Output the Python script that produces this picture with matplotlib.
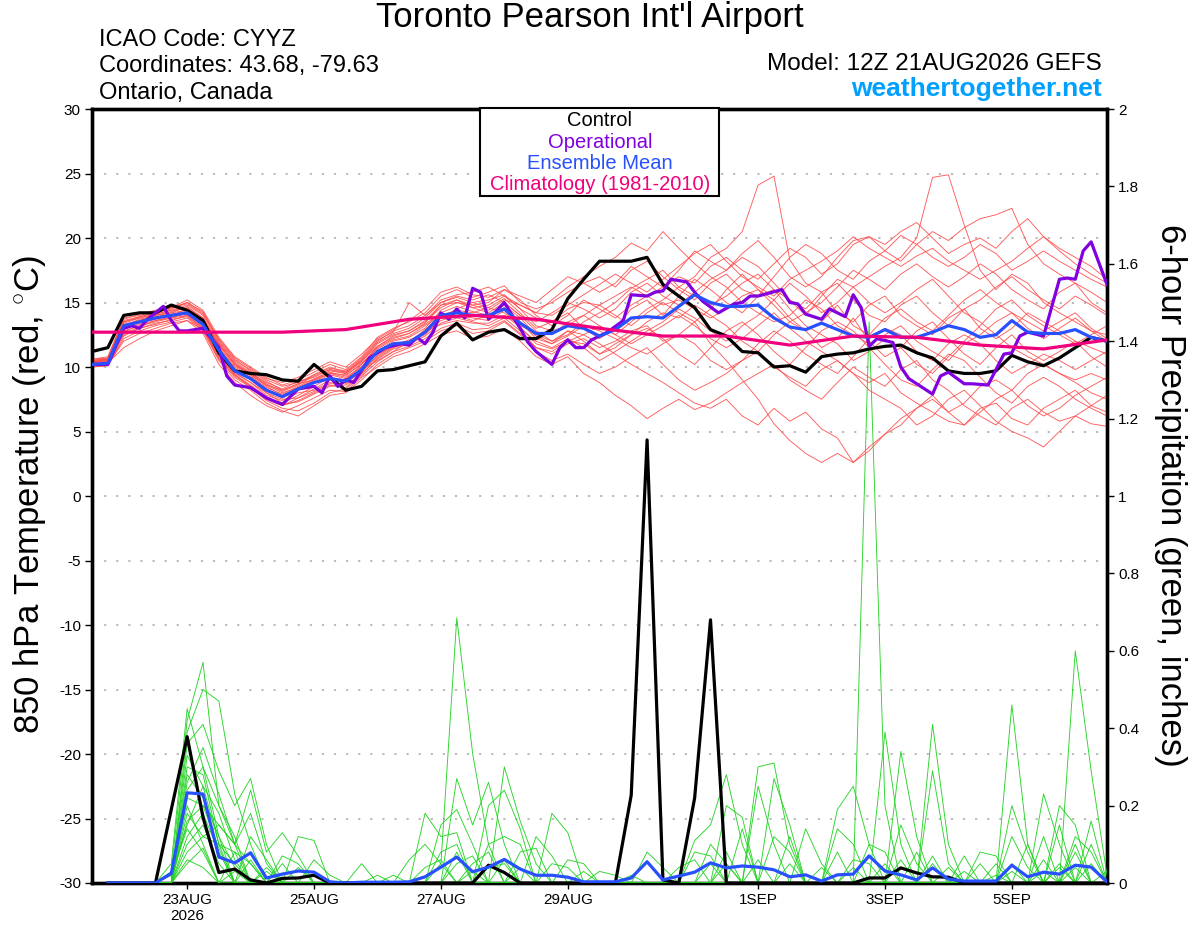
import numpy as np
import matplotlib
matplotlib.use('Agg')
import matplotlib.pyplot as plt
from matplotlib.patches import Rectangle

plt.rcParams['font.family'] = ['Liberation Sans', 'DejaVu Sans']
plt.rcParams['mathtext.fontset'] = 'custom'
plt.rcParams['mathtext.rm'] = 'Liberation Sans'

# ---------------- data ----------------
STEP_H = 6
N = 65
hours = np.arange(N) * STEP_H  # forecast hours from 12Z 21AUG2026

control_t = [11.2, 11.5, 14.0, 14.2, 14.2, 14.8, 14.4, 13.6, 11.1, 9.7,
             9.5, 9.4, 9.0, 8.9, 10.2, 9.2, 8.2, 8.5, 9.7, 9.8,
             10.1, 10.4, 12.4, 13.4, 12.1, 12.7, 12.9, 12.2, 12.2, 12.9,
             15.3, 16.8, 18.2, 18.2, 18.2, 18.5, 16.4, 15.5, 14.6, 12.9,
             12.4, 11.2, 11.1, 10.0, 10.1, 9.6, 10.8, 11.0, 11.1, 11.4,
             11.6, 11.7, 11.1, 10.7, 9.7, 9.5, 9.5, 9.7, 10.9, 10.4,
             10.1, 10.7, 11.5, 12.3, 12.0]

mean_t = [10.2, 10.3, 13.2, 13.5, 13.8, 14.0, 14.2, 13.3, 11.3, 9.7,
          9.1, 8.2, 7.7, 8.3, 8.8, 9.1, 8.9, 9.8, 11.2, 11.8,
          11.9, 12.7, 14.0, 14.2, 14.0, 14.0, 14.5, 13.4, 12.6, 12.6,
          13.2, 13.0, 12.4, 12.9, 13.8, 13.9, 13.8, 14.7, 15.6, 15.0,
          14.7, 14.7, 14.8, 13.8, 13.1, 12.9, 13.4, 12.9, 12.4, 12.3,
          12.9, 12.3, 12.3, 12.7, 13.2, 12.9, 12.3, 12.5, 13.6, 12.7,
          12.6, 12.6, 12.9, 12.3, 12.0]

op_hours = [0, 6, 12, 15, 18, 21, 27, 30, 33, 36, 42, 48, 51, 54, 60, 66, 72, 78,
            84, 87, 90, 93, 96, 99, 105, 111, 117, 120, 123, 126, 129, 132, 135,
            138, 141, 144, 147, 150, 156, 162, 165, 168, 171, 174, 177, 180, 183,
            186, 189, 195, 201, 204, 210, 213, 216, 219, 225, 228, 231, 237, 243,
            246, 249, 252, 261, 264, 267, 270, 276, 279, 285, 288, 291, 294, 297,
            303, 306, 309, 318, 321, 324, 330, 333, 339, 342, 345, 348, 351, 354,
            360, 366, 369, 372, 375, 378, 384]
op_t = [10.2, 10.2, 13.0, 13.2, 13.0, 13.7, 14.7, 13.6, 12.8, 12.8, 13.0, 11.5,
        9.3, 8.6, 8.4, 7.6, 7.1, 8.3, 8.5, 8.0, 9.3, 8.5, 9.0, 8.8, 10.7, 11.5,
        11.8, 11.7, 12.3, 11.8, 12.7, 14.2, 13.7, 14.5, 13.8, 16.1, 15.8, 13.7,
        15.0, 13.0, 11.9, 11.2, 10.7, 10.2, 11.5, 12.1, 11.5, 11.5, 12.1, 12.7,
        13.6, 15.6, 15.5, 15.8, 15.9, 16.8, 16.6, 15.8, 15.1, 14.2, 14.9, 15.0,
        15.5, 15.5, 16.0, 15.0, 14.9, 14.1, 13.7, 14.5, 13.9, 15.6, 14.6, 11.6,
        12.2, 11.9, 10.0, 9.1, 7.9, 9.3, 9.6, 8.7, 8.7, 8.6, 9.8, 11.0, 11.1,
        12.4, 12.7, 12.4, 16.8, 16.9, 16.8, 19.0, 19.7, 16.4]

clim_hours = [0, 24, 48, 72, 96, 120, 144, 168, 192, 216, 240, 264, 288, 312, 336, 360, 384]
clim_t = [12.7, 12.7, 12.7, 12.7, 12.9, 13.7, 14.0, 13.7, 13.0, 12.4, 12.4,
          11.7, 12.4, 12.3, 11.7, 11.4, 12.1]

# precipitation series start at forecast hour 6 (index 1)
control_p = [0, 0, 0, 0, 0, .19, .378, .17, .027, .036,
             .008, 0, .012, .013, .02, 0, 0, 0, 0, 0,
             0, 0, 0, 0, 0, .046, .027, 0, 0, 0,
             0, 0, 0, 0, .227, 1.145, .008, 0, .22, .68,
             0, 0, 0, 0, 0, 0, 0, 0, 0, .013,
             .013, .039, .026, .016, .015, 0, 0, 0, 0, 0,
             0, 0, 0, 0, 0]

mean_p = [0, 0, 0, 0, 0, .025, .233, .23, .067, .052,
          .078, .013, .023, .031, .028, .003, 0, .002, .002, .002,
          .003, .016, .041, .067, .029, .041, .061, .036, .02, .02,
          .015, .003, .003, .003, .013, .055, .008, .018, .028, .052,
          .039, .044, .041, .034, .016, .021, .005, .021, .023, .07,
          .031, .021, .008, .039, .01, .005, .005, .005, .046, .016,
          .028, .023, .046, .041, .003]

# ensemble member 850 hPa temperatures (deg C)
mem_t01 = [10.4, 10.6, 13.0, 13.6, 14.0, 14.3, 14.6, 13.8, 11.5, 9.9, 9.0, 8.0, 7.2, 7.8, 8.5,
           9.2, 9.0, 10.2, 11.5, 12.2, 12.6, 13.4, 14.8, 15.2, 14.6, 14.2, 15.0, 14.0, 12.8, 12.0,
           12.5, 13.5, 14.2, 15.0, 16.1, 16.8, 17.5, 16.2, 17.0, 18.5, 19.2, 20.5, 24.1, 24.8, 18.3,
           16.5, 15.8, 14.2, 13.5, 14.8, 15.5, 14.0, 13.2, 12.5, 13.8, 14.5, 13.0, 12.2, 13.0, 14.2,
           13.5, 12.8, 12.0, 11.5, 11.0]
mem_t02 = [10.1, 10.2, 12.8, 13.2, 13.5, 13.8, 14.2, 13.5, 11.8, 10.2, 9.5, 8.6, 8.0, 8.4, 8.9,
           9.5, 9.2, 10.0, 11.0, 11.6, 12.0, 12.5, 13.8, 14.5, 15.0, 14.6, 15.3, 14.2, 13.0, 13.5,
           14.2, 13.0, 12.2, 13.0, 14.5, 15.2, 14.0, 15.5, 16.8, 16.0, 15.0, 14.2, 15.5, 16.0, 15.2,
           14.0, 15.5, 16.8, 16.2, 17.0, 17.8, 18.5, 20.0, 24.7, 24.9, 21.0, 17.5, 16.0, 17.2, 16.5,
           15.0, 14.2, 13.5, 12.8, 12.5]
mem_t03 = [10.3, 10.5, 12.5, 13.0, 13.4, 13.6, 14.0, 13.0, 10.8, 9.4, 8.5, 7.5, 7.0, 7.4, 8.0,
           8.6, 8.4, 9.5, 10.6, 11.4, 11.8, 12.4, 13.4, 13.8, 13.5, 13.2, 13.8, 12.8, 11.5, 11.0,
           11.8, 12.2, 11.5, 12.0, 12.8, 13.2, 12.0, 12.5, 13.5, 11.8, 10.5, 9.0, 7.5, 5.6, 4.3,
           3.3, 2.6, 3.3, 2.6, 3.5, 4.8, 6.0, 6.8, 7.5, 6.5, 7.2, 8.5, 9.0, 8.2, 9.5,
           10.2, 9.5, 8.8, 8.0, 7.5]
mem_t04 = [10.5, 10.7, 13.5, 13.8, 14.1, 14.4, 14.8, 14.0, 11.9, 10.4, 9.6, 8.7, 8.1, 8.6, 9.3,
           9.8, 9.5, 10.4, 11.8, 12.5, 12.8, 13.5, 14.6, 15.2, 14.8, 15.0, 16.0, 15.2, 14.0, 13.2,
           14.0, 15.2, 14.5, 13.8, 14.8, 15.5, 16.2, 17.0, 16.5, 17.8, 18.5, 17.5, 16.8, 18.0, 19.2,
           18.5, 17.2, 18.0, 19.5, 20.1, 19.0, 18.2, 19.5, 20.5, 19.8, 20.8, 21.5, 21.8, 22.3, 19.5,
           18.0, 17.2, 16.5, 15.8, 15.0]
mem_t05 = [10.0, 10.1, 12.2, 12.8, 13.2, 13.5, 13.8, 12.8, 10.5, 9.0, 8.2, 7.2, 6.6, 6.2, 7.0,
           7.8, 8.0, 9.0, 10.2, 11.0, 11.5, 12.0, 12.8, 13.2, 12.6, 12.8, 13.5, 12.5, 11.2, 10.5,
           11.0, 10.2, 9.5, 10.0, 10.8, 11.5, 10.2, 9.0, 8.2, 8.8, 9.5, 10.5, 11.2, 10.0, 9.2,
           8.5, 9.8, 10.5, 9.5, 8.2, 7.5, 6.8, 5.5, 6.2, 7.5, 8.2, 7.0, 5.8, 5.0, 4.5,
           3.8, 5.0, 6.2, 5.6, 5.4]
mem_t06 = [10.6, 10.8, 13.8, 14.0, 14.3, 14.6, 15.2, 14.4, 12.3, 10.8, 10.0, 9.2, 8.6, 9.0, 9.6,
           10.2, 9.8, 10.8, 12.3, 13.0, 13.5, 14.2, 15.5, 16.0, 15.4, 15.8, 16.3, 15.0, 14.5, 15.0,
           15.8, 16.5, 17.0, 16.2, 17.5, 18.2, 17.0, 16.0, 15.2, 16.5, 17.2, 16.0, 15.5, 17.0, 18.5,
           19.5, 18.8, 17.5, 16.8, 18.2, 19.0, 20.2, 19.5, 18.5, 17.8, 18.5, 19.5, 18.8, 17.5, 18.2,
           19.0, 18.2, 17.5, 16.8, 16.2]
mem_t07 = [10.2, 10.3, 11.5, 12.2, 12.8, 13.2, 13.6, 12.9, 11.0, 9.6, 8.8, 7.8, 7.4, 8.0, 8.2,
           8.8, 9.0, 9.8, 10.5, 11.2, 12.0, 12.8, 14.2, 14.0, 13.6, 14.0, 14.6, 13.5, 12.2, 11.8,
           12.8, 12.0, 11.0, 11.8, 12.5, 13.5, 14.2, 13.8, 14.8, 14.0, 13.2, 12.0, 11.2, 12.5, 13.5,
           12.8, 11.5, 12.2, 13.8, 12.0, 10.8, 11.5, 12.8, 13.5, 12.2, 11.0, 10.2, 11.5, 12.5, 11.2,
           10.5, 11.2, 12.0, 10.8, 10.0]
mem_t08 = [10.4, 10.5, 13.2, 13.7, 14.0, 14.2, 14.4, 13.6, 11.2, 9.8, 9.2, 8.3, 7.6, 8.2, 8.8,
           9.4, 9.1, 10.0, 11.2, 12.0, 12.3, 13.0, 14.4, 15.0, 14.8, 14.4, 15.2, 14.8, 14.2, 15.2,
           16.2, 17.0, 17.8, 18.5, 19.6, 19.0, 20.5, 19.2, 18.0, 17.0, 16.2, 15.0, 14.2, 13.5, 14.0,
           15.2, 14.5, 13.2, 12.5, 11.8, 12.5, 13.2, 12.0, 11.2, 10.5, 11.8, 12.5, 13.5, 14.2, 13.5,
           12.8, 13.5, 14.2, 13.0, 12.2]
mem_t09 = [10.1, 10.2, 12.0, 12.6, 13.0, 13.4, 13.6, 12.6, 10.2, 8.8, 7.8, 7.0, 6.5, 7.0, 7.6,
           8.2, 8.1, 9.2, 10.0, 10.8, 11.2, 11.8, 12.5, 12.8, 12.2, 12.4, 13.0, 12.0, 10.8, 10.2,
           10.8, 9.5, 8.8, 7.8, 7.0, 6.0, 6.8, 7.5, 6.7, 7.2, 8.0, 8.8, 9.5, 10.2, 9.0,
           8.2, 7.5, 8.8, 10.0, 9.2, 8.5, 9.8, 10.5, 9.0, 8.2, 7.0, 6.2, 5.5, 6.8, 7.5,
           6.5, 5.8, 6.2, 7.0, 7.8]
mem_t10 = [10.5, 10.6, 13.6, 13.9, 14.2, 14.5, 15.0, 14.2, 12.0, 10.5, 9.8, 9.0, 8.5, 8.8, 9.4,
           10.0, 9.6, 10.6, 12.0, 12.8, 13.2, 14.0, 15.2, 15.6, 15.8, 16.2, 15.5, 14.8, 14.2, 14.0,
           14.8, 15.6, 16.4, 17.2, 16.5, 15.8, 16.8, 17.8, 18.8, 19.5, 18.2, 17.0, 16.2, 15.5, 16.8,
           17.5, 18.2, 19.0, 20.1, 19.2, 18.5, 17.8, 18.6, 19.2, 18.2, 17.5, 16.8, 17.5, 18.2, 19.2,
           20.1, 19.0, 18.0, 17.2, 16.5]
mem_t11 = [10.3, 10.4, 12.9, 13.4, 13.7, 14.0, 14.2, 13.3, 11.4, 10.0, 9.3, 8.4, 7.9, 8.5, 9.1,
           9.6, 9.3, 10.3, 11.4, 12.1, 12.4, 13.2, 14.0, 14.4, 14.2, 14.6, 14.2, 13.2, 12.6, 12.5,
           13.5, 14.0, 13.2, 12.5, 13.5, 14.5, 15.2, 16.2, 15.5, 14.8, 15.5, 16.5, 17.2, 16.0, 14.5,
           13.2, 12.5, 11.8, 10.5, 11.2, 12.2, 11.5, 10.2, 9.5, 10.8, 12.0, 13.2, 14.5, 15.2, 14.0,
           13.2, 12.5, 11.8, 12.5, 13.2]
mem_t12 = [10.2, 10.4, 13.1, 13.5, 13.9, 14.1, 14.3, 13.4, 11.0, 9.5, 8.8, 8.0, 7.5, 7.6, 8.3,
           9.0, 8.8, 9.6, 10.9, 11.7, 12.1, 12.6, 13.6, 14.0, 13.8, 13.6, 14.4, 13.0, 12.0, 11.5,
           12.2, 11.5, 10.5, 11.2, 12.0, 12.8, 13.5, 14.5, 13.8, 12.8, 12.0, 13.2, 14.0, 15.2, 16.5,
           15.5, 14.2, 15.0, 16.2, 15.0, 14.2, 15.0, 16.0, 16.8, 15.5, 14.2, 13.5, 12.5, 11.5, 10.8,
           10.2, 9.5, 9.0, 9.5, 9.0]
mem_t13 = [10.4, 10.5, 13.3, 13.6, 14.0, 14.2, 14.7, 13.8, 11.6, 10.1, 9.4, 8.5, 7.8, 8.4, 9.0,
           9.5, 9.4, 10.2, 11.6, 12.3, 12.6, 13.3, 14.2, 14.7, 14.3, 14.0, 14.8, 13.8, 12.5, 12.0,
           12.8, 12.5, 11.8, 11.0, 10.2, 9.5, 8.8, 8.0, 7.2, 6.8, 7.5, 6.2, 5.5, 6.8, 5.8,
           6.5, 5.2, 4.5, 2.6, 3.8, 4.8, 5.5, 6.8, 7.8, 6.5, 5.5, 6.8, 7.2, 6.0, 5.5,
           6.8, 7.5, 8.2, 7.0, 6.5]
mem_t14 = [10.6, 10.7, 13.7, 14.1, 14.4, 14.6, 14.9, 14.1, 12.2, 10.7, 9.9, 9.1, 8.8, 9.2, 9.8,
           10.4, 10.0, 11.0, 12.2, 12.9, 13.6, 14.5, 15.8, 16.2, 15.6, 15.4, 16.0, 15.5, 15.0, 16.0,
           17.0, 16.5, 15.8, 16.5, 17.8, 17.0, 16.2, 17.5, 19.0, 18.2, 17.5, 18.8, 19.8, 18.5, 17.0,
           16.2, 17.0, 18.5, 19.8, 20.1, 19.5, 20.5, 21.2, 20.0, 18.8, 19.5, 20.0, 19.2, 20.5, 21.5,
           20.1, 19.2, 18.5, 17.8, 16.8]
mem_t15 = [10.0, 10.1, 12.4, 13.0, 13.3, 13.7, 13.9, 12.9, 10.6, 9.2, 8.4, 7.4, 6.8, 6.6, 7.2,
           8.0, 8.3, 9.3, 10.4, 11.2, 11.6, 12.2, 13.0, 13.4, 12.9, 13.0, 13.6, 12.6, 11.5, 11.2,
           12.0, 11.8, 11.0, 11.5, 12.5, 13.0, 12.2, 11.0, 10.2, 11.5, 12.8, 13.5, 12.5, 11.2, 10.2,
           11.5, 12.8, 13.5, 12.8, 11.5, 10.2, 9.0, 8.5, 9.8, 11.0, 10.5, 9.2, 8.0, 7.2, 8.5,
           9.2, 8.5, 7.5, 6.8, 6.2]
mem_t16 = [10.3, 10.5, 13.4, 13.8, 14.1, 14.4, 14.5, 13.7, 11.7, 10.3, 9.5, 8.8, 8.3, 8.9, 9.2,
           9.8, 9.6, 10.5, 11.9, 12.6, 13.0, 13.8, 15.0, 15.5, 15.2, 15.6, 15.0, 14.0, 13.5, 14.2,
           15.0, 14.5, 13.8, 14.5, 15.8, 16.5, 15.5, 14.8, 15.8, 16.8, 17.5, 18.5, 17.8, 16.5, 15.2,
           14.5, 15.8, 16.5, 15.2, 14.0, 13.5, 14.8, 15.5, 14.2, 13.2, 14.5, 15.2, 16.2, 17.0, 16.0,
           15.2, 14.5, 15.5, 14.8, 14.0]
mem_t17 = [10.2, 10.3, 12.6, 13.1, 13.6, 13.9, 14.1, 13.1, 10.9, 9.4, 8.6, 7.7, 7.1, 7.3, 7.9,
           8.5, 8.6, 9.4, 10.7, 11.5, 11.9, 12.9, 13.9, 14.2, 14.0, 13.8, 14.0, 13.4, 12.4, 11.8,
           12.4, 13.2, 12.8, 12.2, 11.5, 11.0, 11.8, 12.5, 11.8, 10.5, 9.8, 10.5, 11.8, 12.8, 12.0,
           11.0, 10.2, 9.5, 10.8, 12.2, 13.0, 12.5, 11.2, 10.5, 11.8, 12.5, 11.8, 10.5, 9.5, 10.2,
           11.0, 10.5, 9.8, 10.5, 11.2]
mem_t18 = [10.5, 10.6, 13.5, 13.9, 14.2, 14.6, 15.0, 14.3, 12.1, 10.6, 9.7, 8.9, 8.2, 8.7, 9.4,
           9.9, 9.7, 10.7, 12.1, 12.7, 15.0, 14.0, 15.0, 15.4, 15.0, 15.2, 15.6, 14.5, 13.8, 13.5,
           14.5, 15.0, 14.8, 15.5, 16.2, 15.5, 14.8, 15.2, 14.5, 13.8, 14.5, 15.5, 16.0, 15.2, 13.8,
           12.8, 13.5, 14.8, 13.2, 12.5, 13.8, 14.5, 13.5, 12.8, 14.0, 15.2, 16.0, 15.0, 14.2, 13.0,
           12.2, 13.0, 13.8, 12.8, 12.0]
mem_t19 = [10.1, 10.2, 12.7, 13.3, 13.6, 13.8, 14.0, 13.0, 10.7, 9.3, 8.5, 7.6, 7.0, 7.6, 8.1,
           8.7, 8.7, 9.7, 10.8, 11.6, 12.0, 12.7, 13.3, 13.6, 13.4, 13.4, 14.0, 13.1, 11.8, 11.4,
           12.0, 12.5, 13.2, 12.5, 11.8, 12.5, 13.2, 14.0, 13.2, 12.2, 11.5, 12.2, 13.2, 14.2, 13.0,
           12.0, 11.2, 10.5, 9.5, 8.8, 9.5, 8.0, 7.2, 6.5, 5.8, 5.5, 6.5, 7.5, 8.2, 7.0,
           6.2, 6.8, 7.8, 8.5, 9.2]
mem_t20 = [10.4, 10.6, 13.0, 13.5, 13.8, 14.0, 14.5, 13.8, 11.8, 10.2, 9.4, 8.6, 8.2, 8.7, 9.0,
           9.7, 9.5, 10.5, 11.6, 12.4, 12.8, 13.6, 14.8, 15.0, 14.6, 14.8, 15.5, 14.5, 13.2, 12.8,
           13.2, 14.0, 14.8, 14.0, 13.2, 14.2, 15.0, 14.2, 13.5, 14.5, 16.0, 17.2, 16.0, 14.8, 13.5,
           14.2, 15.0, 16.2, 17.5, 16.8, 16.0, 17.2, 18.0, 17.0, 16.2, 17.0, 18.0, 17.2, 16.0, 15.2,
           14.5, 15.8, 16.5, 15.0, 14.2]
members_t = [mem_t01, mem_t02, mem_t03, mem_t04, mem_t05, mem_t06, mem_t07, mem_t08, mem_t09,
             mem_t10, mem_t11, mem_t12, mem_t13, mem_t14, mem_t15, mem_t16, mem_t17, mem_t18,
             mem_t19, mem_t20]

# ensemble member 6-hour precipitation (inches)
mem_p01 = [0,0,0,0,0, .05,.45,.30,.12,.04, 0,0,0,0,0, 0,0,0,0,0, 0,0,.05,.685,.335, .10,0,0,0,0, 0,0,0,0,0, 0,0,0,0,0, .05,0,0,0,0, 0,0,0,0,1.45, .20,0,0,0,0, 0,0,0,.05,0, 0,0,.10,0,0]
mem_p02 = [0,0,0,0,0, .03,.42,.57,.20,.10, .05,0,0,0,0, 0,0,0,0,0, 0,0,0,0,0, 0,.30,.16,.05,0, 0,0,0,0,0, 0,0,0,0,0, 0,0,.30,.31,.10, 0,0,0,0,0, 0,0,0,.41,.10, 0,0,0,0,0, 0,0,.60,.29,.02]
mem_p03 = [0,0,0,0,0, 0,.39,.50,.47,.23, .10,0,0,0,0, 0,0,0,0,0, 0,0,0,.27,.15, .26,.10,0,0,0, 0,0,0,0,0, 0,0,0,0,0, 0,0,0,0,0, 0,0,.19,.25,.10, 0,0,0,0,0, 0,0,0,.46,.10, 0,0,0,0,0]
mem_p04 = [0,0,0,0,0, 0,.36,.41,.29,.20, .27,.10,0,0,0, 0,0,0,0,0, 0,0,0,0,0, 0,0,0,0,0, 0,0,0,0,0, 0,0,0,.11,.15, .28,.10,0,0,0, 0,0,0,0,0, .39,.10,0,0,0, 0,0,0,0,0, .23,.10,0,0,0]
mem_p05 = [0,0,0,0,0, 0,.26,.35,.23,.10, .24,.08,.13,.07,0, 0,0,0,0,0, 0,0,.15,.19,.10, 0,0,0,0,.18, .13,0,0,0,0, 0,0,0,0,0, 0,0,0,0,0, 0,0,0,0,0, 0,.34,.12,0,0, 0,0,0,0,0, 0,0,0,.16,0]
mem_p06 = [0,0,0,0,0, 0,.22,.20,.15,.10, .18,.05,0,.12,.11, 0,0,0,0,0, 0,0,0,0,0, .20,.24,.14,0,0, 0,0,0,0,0, 0,0,0,0,0, 0,0,0,.27,.15, 0,0,0,0,0, 0,0,0,.29,.05, 0,0,0,0,0, 0,.20,.15,0,0]
mem_p07 = [0,0,0,0,0, 0,.18,.12,.10,.05, 0,0,0,0,.06, .02,0,0,0,0, 0,.18,.12,.13,0, 0,0,0,0,0, 0,0,0,0,0, 0,0,0,0,0, .20,.17,0,0,0, 0,0,.14,.10,0, 0,0,0,0,0, 0,0,0,.20,.08, 0,0,0,0,0]
mem_p08 = [0,0,0,0,0, 0,.30,.28,.10,.08, 0,0,.07,.05,0, 0,0,0,0,0, 0,0,.08,.10,0, 0,0,0,.12,.07, 0,0,0,0,0, 0,0,0,0,0, 0,0,0,0,0, .14,.05,0,0,0, 0,0,0,0,0, 0,.08,.07,0,0, 0,0,.08,0,0]
mem_p09 = [0,0,0,0,0, .02,.15,.25,.18,.06, 0,0,0,0,0, 0,0,.05,0,0, .06,.10,.05,0,0, 0,0,0,0,0, 0,0,0,0,0, 0,0,0,0,.10, .05,0,0,0,0, 0,0,0,0,.10, .08,0,0,0,0, .07,0,0,0,0, .12,0,0,0,0]
mem_p10 = [0,0,0,0,0, 0,.12,.18,.08,0, 0,.04,0,0,0, 0,0,0,0,0, 0,0,0,0,0, .10,.12,.10,0,0, 0,0,0,0,0, 0,0,0,0,0, 0,0,.25,.10,0, 0,0,0,0,0, 0,.15,.05,0,0, 0,0,0,0,0, 0,0,0,.10,0]
mem_p11 = [0,0,0,0,0, 0,.28,.22,.12,0, .12,.06,0,0,0, 0,0,0,.02,0, 0,0,0,0,.05, .08,0,0,0,0, .06,.05,0,0,0, 0,0,0,.08,.07, 0,0,0,0,.12, 0,0,0,0,0, 0,0,0,0,0, 0,0,0,0,.10, 0,.15,0,0,0]
mem_p12 = [0,0,0,0,0, 0,.10,.15,.05,0, 0,0,.05,0,0, 0,0,0,0,0, 0,0,0,0,0, 0,0,.08,.09,0, 0,0,0,0,0, .08,.04,0,0,0, 0,.14,0,0,0, 0,0,0,0,0, 0,0,0,.05,0, 0,0,.05,0,0, 0,0,.12,.08,0]
mem_p13 = [0,0,0,0,0, 0,.20,.10,0,.08, .05,0,0,0,0, 0,0,0,0,0, 0,0,0,.05,.07, 0,0,0,0,0, 0,0,.03,.02,0, 0,0,0,0,0, 0,0,0,0,0, 0,0,.08,0,0, .05,0,0,0,0, 0,0,0,.12,.04, 0,0,0,0,.03]
mem_p14 = [0,0,0,0,0, 0,.33,.25,.10,0, 0,0,0,.04,0, 0,0,0,0,0, 0,0,0,0,0, 0,.06,0,0,0, 0,0,0,0,0, 0,0,.04,.06,0, 0,0,0,0,0, 0,0,0,.06,.05, 0,0,0,0,.04, 0,0,0,0,0, .06,0,0,.05,0]
mem_p15 = [0,0,0,0,0, 0,.08,.12,.15,.10, 0,0,0,0,0, 0,0,0,0,0, 0,.04,.06,0,0, 0,0,0,0,.05, .04,0,0,0,0, 0,0,0,0,0, 0,0,0,.12,.08, 0,0,0,0,0, 0,0,.08,0,0, 0,0,0,0,0, 0,.05,0,0,0]
mem_p16 = [0,0,0,0,0, .02,.14,.08,0,0, .06,0,0,0,0, 0,0,0,0,.02, 0,0,0,0,0, 0,0,0,0,0, 0,.03,0,0,.02, 0,0,0,0,0, 0,0,0,0,0, 0,.04,0,0,0, 0,0,0,0,0, .03,0,0,0,0, 0,0,.04,0,0]
mem_p17 = [0,0,0,0,0, 0,.24,.30,.20,.12, 0,0,0,0,0, 0,0,0,0,0, 0,0,0,0,0, .04,.05,0,0,0, 0,0,0,0,0, 0,0,0,0,0, .08,0,0,0,0, 0,0,0,.04,0, 0,0,0,0,0, 0,.05,0,0,0, 0,0,0,0,0]
mem_p18 = [0,0,0,0,0, 0,.05,.09,0,.03, 0,0,0,0,0, 0,0,0,0,0, 0,0,0,0,.03, 0,0,0,0,0, 0,0,0,0,0, 0,0,0,0,.05, 0,0,0,0,0, 0,0,0,0,0, 0,.06,0,0,0, 0,0,0,0,0, .03,0,0,0,0]
mem_p19 = [0,0,0,0,0, 0,.16,.20,.09,0, 0,.03,0,0,0, 0,0,0,0,0, 0,0,0,.08,0, 0,0,0,0,0, 0,0,0,0,0, 0,0,0,0,0, 0,0,.06,0,0, 0,0,0,0,0, 0,0,0,.07,0, 0,0,0,.03,0, 0,0,0,0,0]
mem_p20 = [0,0,0,0,0, 0,.06,.04,0,0, 0,0,0,0,0, 0,0,0,0,0, 0,0,0,0,0, 0,0,.04,0,0, 0,0,0,0,0, 0,0,0,0,0, 0,0,0,0,.05, 0,0,0,0,0, 0,0,0,0,0, 0,0,.02,0,0, 0,.04,0,0,0]
members_p = [mem_p01, mem_p02, mem_p03, mem_p04, mem_p05, mem_p06, mem_p07, mem_p08, mem_p09,
             mem_p10, mem_p11, mem_p12, mem_p13, mem_p14, mem_p15, mem_p16, mem_p17, mem_p18,
             mem_p19, mem_p20]

tick_hours = [36, 84, 132, 180, 252, 300, 348]
tick_labels = ['23AUG\n2026', '25AUG', '27AUG', '29AUG', '1SEP', '3SEP', '5SEP']

legend_items = [('Control', '#000000'), ('Operational', '#8000e0'),
                ('Ensemble Mean', '#2850ff'), ('Climatology (1981-2010)', '#f0007c')]

for m in members_t + members_p + [control_t, mean_t, control_p, mean_p]:
    assert len(m) == N, len(m)
assert len(op_hours) == len(op_t)

# ---------------- figure ----------------
W, H = 1200, 927
fig = plt.figure(figsize=(W / 100, H / 100), dpi=100)
L, R, T, B = 92, 1107, 109, 883
ax = fig.add_axes([L / W, 1 - B / H, (R - L) / W, (B - T) / H])
ax2 = ax.twinx()
ax.set_xlim(0, 384)
ax.set_ylim(-30, 30)
ax2.set_ylim(0, 2)

ax.set_yticks(np.arange(-30, 31, 5))
ax.set_yticklabels([f'{v:d}' for v in range(-30, 31, 5)])
ax.grid(axis='y', color='#b4b4b4', linestyle=(0, (1.2, 5.5)), linewidth=1.3)
ax.set_axisbelow(True)

p_ticks = np.round(np.arange(0, 2.01, 0.2), 1)
ax2.set_yticks(p_ticks)
ax2.set_yticklabels([f'{v:g}' for v in p_ticks])

ax.set_xticks(tick_hours)
ax.set_xticklabels(tick_labels)
ax.tick_params(axis='x', direction='out', length=4, width=1, pad=3, labelsize=11)
ax.tick_params(axis='y', direction='out', length=5, width=1, labelsize=11, pad=3)
ax2.tick_params(axis='y', direction='out', length=5, width=1, labelsize=11, pad=3)

for a in (ax, ax2):
    for s in a.spines.values():
        s.set_linewidth(2.4)

ptrans = ax2.transData
ph = hours[1:]
# ensemble members temperature
for m in members_t:
    ax.plot(hours, m, color='#ff4a4a', lw=0.65, alpha=0.9, zorder=2)
# ensemble members precipitation
for m in members_p:
    ax.plot(ph, m[1:], color='#1ed21e', lw=0.65, alpha=0.95, zorder=3, transform=ptrans)

ax.plot(hours, control_t, color='black', lw=2.3, zorder=5)
ax.plot(ph, control_p[1:], color='black', lw=2.3, zorder=5, transform=ptrans)
ax.plot(op_hours, op_t, color='#8000e0', lw=2.3, zorder=6)
ax.plot(hours, mean_t, color='#2850ff', lw=2.3, zorder=7)
ax.plot(ph, mean_p[1:], color='#2850ff', lw=2.3, zorder=7, transform=ptrans)
ax.plot(clim_hours, clim_t, color='#f0007c', lw=2.3, zorder=8)
ax.set_zorder(2)
ax2.set_zorder(1)
ax.patch.set_visible(False)

# legend box
fig.add_artist(Rectangle((480 / W, 1 - 196 / H), 239 / W, 88 / H, transform=fig.transFigure,
                         facecolor='white', edgecolor='black', lw=1.5, zorder=20))
for i, (lab, col) in enumerate(legend_items):
    fig.text(600 / W, 1 - (121 + 21.3 * i) / H, lab, color=col, ha='center', va='center',
             fontsize=14.5, zorder=21)

# header texts
fig.text(590 / W, 1 - 18 / H, "Toronto Pearson Int'l Airport", ha='center', va='center', fontsize=25)
fig.text(99 / W, 1 - 40 / H, 'ICAO Code: CYYZ', ha='left', va='center', fontsize=17)
fig.text(99 / W, 1 - 66 / H, 'Coordinates: 43.68, -79.63', ha='left', va='center', fontsize=17)
fig.text(99 / W, 1 - 93 / H, 'Ontario, Canada', ha='left', va='center', fontsize=17)
fig.text(1102 / W, 1 - 64 / H, 'Model: 12Z 21AUG2026 GEFS', ha='right', va='center', fontsize=17.5)
fig.text(1102 / W, 1 - 89 / H, 'weathertogether.net', ha='right', va='center', fontsize=19,
         fontweight='bold', color='#00a0ff')

fig.text(30 / W, 1 - 495 / H, r'850 hPa Temperature (red, $^{\circ}$C)', rotation=90,
         ha='center', va='center', fontsize=25)
fig.text(1170 / W, 1 - 495 / H, '6-hour Precipitation (green, inches)', rotation=270,
         ha='center', va='center', fontsize=25)

fig.savefig('out.png', dpi=100)
